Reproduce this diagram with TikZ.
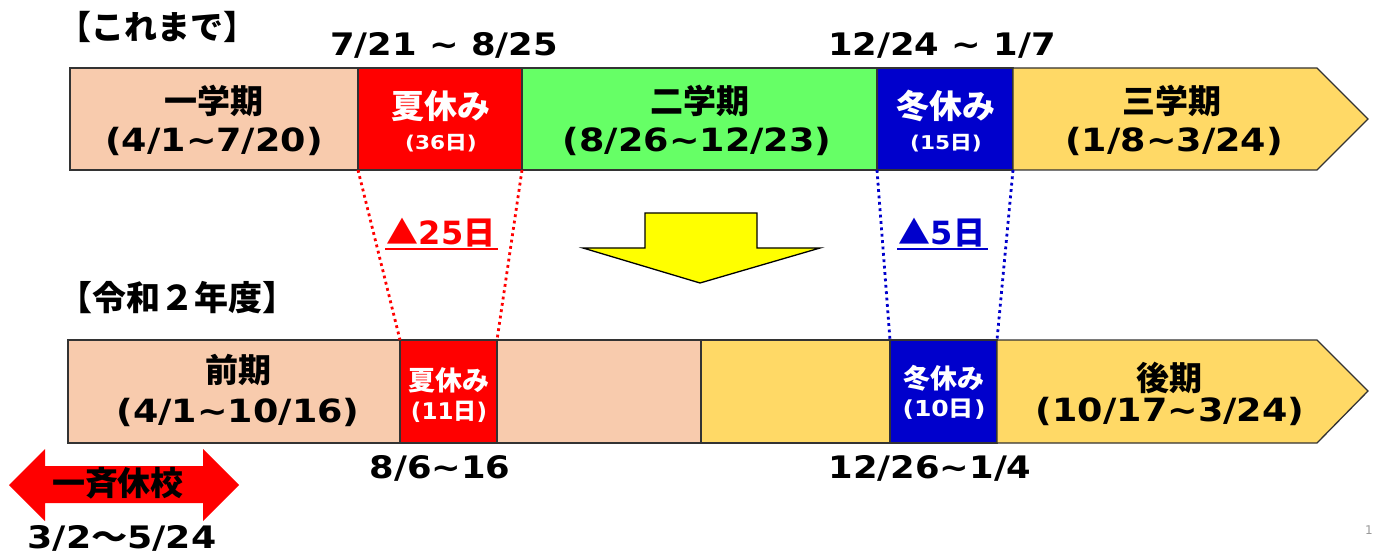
\documentclass[tikz,border=0pt]{standalone}
\usepackage{fontspec}
\usepackage{graphicx}
\setmainfont{DejaVu Sans}
\newfontfamily\jp{Noto Sans CJK JP}
\definecolor{peach}{HTML}{F8CBAD}
\definecolor{hred}{HTML}{FF0000}
\definecolor{hgreen}{HTML}{66FF66}
\definecolor{hblue}{HTML}{0000CC}
\definecolor{hyellow}{HTML}{FFD966}
\definecolor{ayellow}{HTML}{FFFF00}
\newcommand{\fs}[1]{\bfseries\fontsize{#1}{#1}\selectfont}
\newcommand{\tl}{\textasciitilde}
\newcommand{\widen}[1]{\scalebox{1.14}[1]{#1}}
\begin{document}
\begin{tikzpicture}[x=1pt,y=-1pt,
  seg/.style={draw=black!80, line width=1.3pt, inner sep=0pt, outer sep=0pt, anchor=north west},
  segline/.style={draw=black!80, line width=1.3pt, line join=miter},
  lab/.style={inner sep=0pt, font=\fs{32}},
  wlab/.style={inner sep=0pt, text=white, font=\fs{33}},
  wsmall/.style={inner sep=0pt, text=white, font=\fs{19}},
  date/.style={inner sep=0pt, font=\fs{31}},
  rdot/.style={draw=hred, line width=2.8pt, dash pattern=on 2.8pt off 3.6pt},
  bdot/.style={draw=hblue, line width=2.8pt, dash pattern=on 2.8pt off 3.6pt},
]
\useasboundingbox (0,0) rectangle (1374,556);
\fill[white] (0,0) rectangle (1374,556);

% headings
\node[inner sep=0pt, anchor=west, font=\fs{33}] (h1) at (58,27) {\jp 【これまで】};
\node[inner sep=0pt, anchor=west, font=\fs{34}] (h2) at (58,298) {\jp 【令和２年度】};

% top bar
\node[seg, fill=peach, minimum width=288pt, minimum height=102pt] (t1) at (70,68) {};
\node[seg, fill=hred, minimum width=164pt, minimum height=102pt] (t2) at (358,68) {};
\node[seg, fill=hgreen, minimum width=355pt, minimum height=102pt] (t3) at (522,68) {};
\node[seg, fill=hblue, minimum width=136pt, minimum height=102pt] (t4) at (877,68) {};
\coordinate (t5a) at (1013,68);
\coordinate (t5b) at (1317,68);
\coordinate (t5tip) at (1368,119);
\coordinate (t5c) at (1317,170);
\coordinate (t5d) at (1013,170);
\draw[segline, fill=hyellow] (t5a) -- (t5b) -- (t5tip) -- (t5c) -- (t5d) -- cycle;

\node[date] (d1) at (444,45) {\widen{7/21 \tl\ 8/25}};
\node[date] (d2) at (942,45) {\widen{12/24 \tl\ 1/7}};

\node[lab, font=\jp\fs{33}] (l1a) at (214,101) {一学期};
\node[lab] (l1b) at (214,141) {\widen{(4/1\tl 7/20)}};
\node[wlab, font=\jp\fs{33}] (l2a) at (441,106) {夏休み};
\node[wsmall] (l2b) at (441,143) {\widen{(36{\jp 日})}};
\node[lab, font=\jp\fs{33}] (l3a) at (700,101) {二学期};
\node[lab] (l3b) at (697,141) {\widen{(8/26\tl 12/23)}};
\node[wlab, font=\jp\fs{33}] (l4a) at (946,106) {冬休み};
\node[wsmall] (l4b) at (946,143) {\widen{(15{\jp 日})}};
\node[lab, font=\jp\fs{33}] (l5a) at (1172,101) {三学期};
\node[lab] (l5b) at (1174,141) {\widen{(1/8\tl 3/24)}};

% bottom bar
\node[seg, fill=peach, minimum width=332pt, minimum height=103pt] (b1) at (68,340) {};
\node[seg, fill=hred, minimum width=97pt, minimum height=103pt] (b2) at (400,340) {};
\node[seg, fill=peach, minimum width=204pt, minimum height=103pt] (b3) at (497,340) {};
\node[seg, fill=hyellow, minimum width=189pt, minimum height=103pt] (b4) at (701,340) {};
\node[seg, fill=hblue, minimum width=107pt, minimum height=103pt] (b5) at (890,340) {};
\coordinate (b6a) at (997,340);
\coordinate (b6b) at (1317,340);
\coordinate (b6tip) at (1368,391);
\coordinate (b6c) at (1317,443);
\coordinate (b6d) at (997,443);
\draw[segline, fill=hyellow] (b6a) -- (b6b) -- (b6tip) -- (b6c) -- (b6d) -- cycle;

\node[lab, font=\jp\fs{33}] (m1a) at (238,370) {前期};
\node[lab] (m1b) at (238,412) {\widen{(4/1\tl 10/16)}};
\node[inner sep=0pt, text=white, font=\jp\fs{27}] (m2a) at (449,380) {夏休み};
\node[inner sep=0pt, text=white, font=\fs{23}] (m2b) at (449,412) {(11{\jp 日})};
\node[inner sep=0pt, text=white, font=\jp\fs{27}] (m5a) at (944,378) {冬休み};
\node[inner sep=0pt, text=white, font=\fs{22}] (m5b) at (944,409) {\widen{(10{\jp 日})}};
\node[lab, font=\jp\fs{33}] (m6a) at (1169,378) {後期};
\node[lab] (m6b) at (1170,411) {\widen{(10/17\tl 3/24)}};

\node[date] (e1) at (440,468) {\widen{8/6\tl 16}};
\node[date] (e2) at (930,468) {\widen{12/26\tl 1/4}};

% dotted connectors
\draw[rdot] (t2.south west) -- (b2.north west);
\draw[rdot] (t2.south east) -- (b2.north east);
\draw[bdot] (t4.south west) -- (b5.north west);
\draw[bdot] (t4.south east) -- (b5.north east);

\node[inner sep=0pt, text=hred, font=\fs{32}] (r1) at (441,233) {{\jp ▲}25{\jp 日}};
\draw[hred, line width=1.5pt] (385,249) -- (498,249);
\node[inner sep=0pt, text=hblue, font=\fs{32}] (r2) at (942,233) {{\jp ▲}5{\jp 日}};
\draw[hblue, line width=1.5pt] (897,249) -- (988,249);

% big yellow arrow
\draw[fill=ayellow, draw=black, line width=1.3pt, line join=miter]
  (645,213) -- (757,213) -- (757,248) -- (820,248) -- (700,283) -- (583,248) -- (645,248) -- cycle;

% double arrow
\fill[hred] (9,485) -- (45,449) -- (45,466) -- (203,466) -- (203,449) -- (239,485)
  -- (203,521) -- (203,503) -- (45,503) -- (45,521) -- cycle;
\node[inner sep=0pt, font=\jp\fs{33}] (k1) at (118,483) {一斉休校};
\node[date] (k2) at (122,538) {\scalebox{1.17}[1]{3/2{\jp ～}5/24}};

\node[inner sep=0pt, text=black!40, font=\fontsize{12}{12}\selectfont] (pg) at (1369,530) {1};
\end{tikzpicture}
\end{document}
